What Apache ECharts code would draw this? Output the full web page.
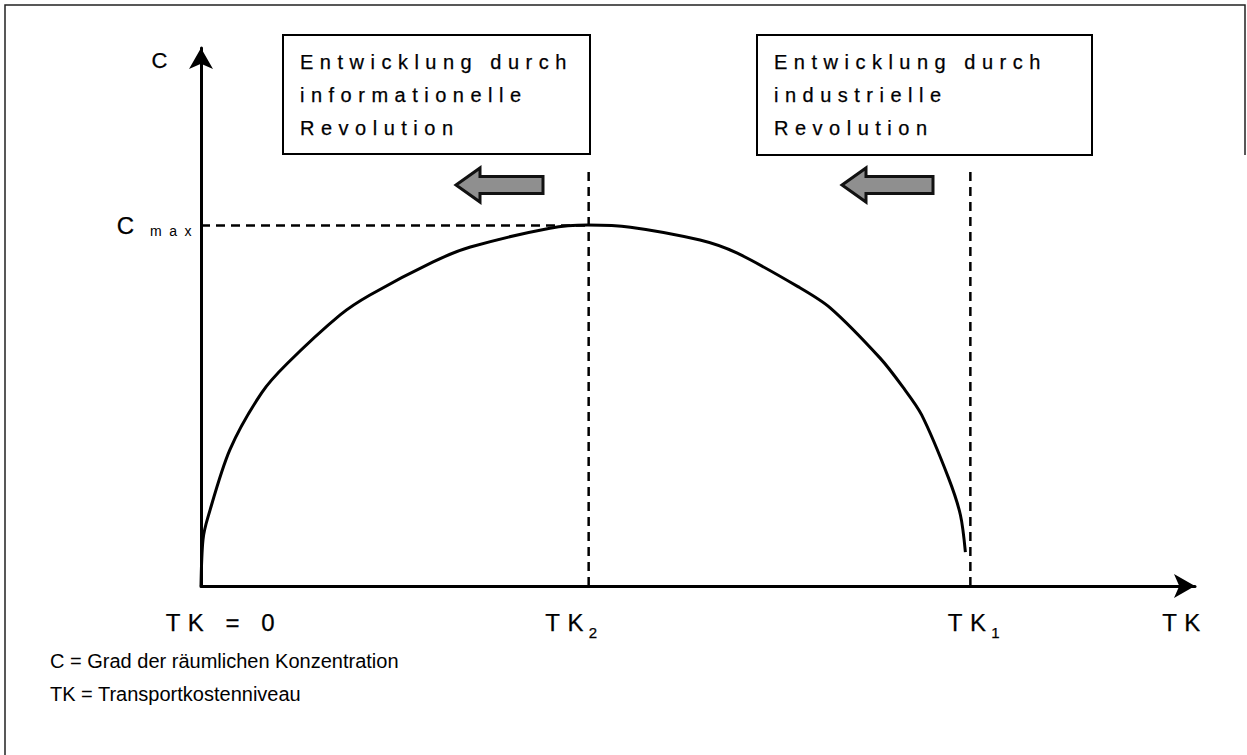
<!DOCTYPE html>
<html>
<head>
<meta charset="utf-8">
<title>Konzentration und Transportkosten</title>
<script src="https://cdn.jsdelivr.net/npm/echarts@6/dist/echarts.min.js"></script>
<style>
    html, body { margin: 0; padding: 0; background: #fff; }
    #chart { width: 1247px; height: 755px; }
    /* gesperrte Schrift wie in der Vorlage */
    #chart svg text { letter-spacing: 7.5px; }
    #chart svg text[fill="#000002"] { letter-spacing: 6.5px; }
    #chart svg text[fill="#010101"] { letter-spacing: 0; }
</style>
</head>
<body>
<div id="chart"></div>
<script>
// Kurve: Transportkostenniveau (TK) -> Grad der Konzentration (C)
const tkValues = [0, 0.2, 0.7, 2.9, 6.1, 8.7, 14.0, 17.0, 23.3, 27.1, 35.1, 38.9, 43.2, 50.2, 53.9, 60.1, 63.3, 68.3, 70.6, 72.5, 75.2, 76.4, 76.9];
const cValues = [0, 8.6, 12.8, 25.3, 35.9, 41.4, 50.4, 54.1, 60.2, 63.0, 66.5, 67.1, 66.7, 64.3, 61.9, 55.6, 51.7, 42.4, 37.0, 31.8, 20.1, 13.2, 6.3];

// Markierungen
const tk2 = 39.0;
const tk1 = 77.4;
const cMax = 67.0;
const dashTop = 77.5;

// Achsenbeschriftungen
const xLabelPos = [2.3, 37.8, 78.3];
const xLabelText = ['TK = 0', '{m|TK}{sub|2}', '{m|TK}{sub|1}'];

// Textkästen und Legende
const boxLines1 = ['Entwicklung durch', 'informationelle', 'Revolution'];
const boxLines2 = ['Entwicklung durch', 'industrielle', 'Revolution'];
const notes = ['C = Grad der räumlichen Konzentration', 'TK = Transportkostenniveau'];

const font = "'Liberation Sans', Arial, sans-serif";

// Blockpfeil nach links
function arrowShape(x0, x1, cy) {
    const head = 24;
    return [
        [x0, cy], [x0 + head, cy - 17], [x0 + head, cy - 8.5], [x1, cy - 8.5],
        [x1, cy + 8.5], [x0 + head, cy + 8.5], [x0 + head, cy + 17]
    ];
}

function textBox(x, y, w, h, lines) {
    return {
        type: 'group',
        children: [{
            type: 'rect',
            shape: { x: x, y: y, width: w, height: h },
            style: { fill: '#fff', stroke: '#000', lineWidth: 2 }
        }, {
            type: 'text',
            x: x + 17,
            y: y + 10,
            style: {
                text: lines.join('\n'),
                font: '20px ' + font,
                fill: '#000002',
                stroke: '#000002',
                lineWidth: 0.25,
                lineHeight: 33,
                verticalAlign: 'top'
            }
        }]
    };
}

const chart = echarts.init(document.getElementById('chart'), null, { renderer: 'svg' });

const dashStyle = { color: '#000', width: 2.5, type: [9, 6] };
const labelText = { color: '#000', fontFamily: font, fontSize: 24, textBorderColor: '#000', textBorderWidth: 0.25 };

const option = {
    backgroundColor: '#fff',
    animation: false,
    grid: { left: 201, right: 52, top: 48, bottom: 169 },
    xAxis: {
        type: 'value',
        min: 0,
        max: 100,
        name: 'TK',
        nameLocation: 'end',
        nameGap: -10,
        nameTextStyle: Object.assign({}, labelText, {
            align: 'center', verticalAlign: 'top', padding: [24, 0, 0, 0]
        }),
        axisLine: {
            show: true,
            symbol: ['none', 'arrow'],
            symbolSize: [18, 21],
            lineStyle: { color: '#000', width: 3 }
        },
        axisTick: { show: false },
        splitLine: { show: false },
        axisLabel: Object.assign({}, labelText, {
            customValues: xLabelPos,
            margin: 24,
            formatter: function (v) {
                return xLabelText[xLabelPos.indexOf(v)];
            },
            rich: {
                m: Object.assign({}, labelText, { padding: [0, 9, 6, 0] }),
                sub: { fontSize: 15, fontFamily: font, color: '#000', verticalAlign: 'bottom', lineHeight: 8 }
            }
        })
    },
    yAxis: {
        type: 'value',
        min: 0,
        max: 100,
        name: 'C',
        nameLocation: 'end',
        nameGap: -12,
        nameTextStyle: Object.assign({}, labelText, {
            fontSize: 22, align: 'right', verticalAlign: 'middle', padding: [0, 26, 0, 0]
        }),
        axisLine: {
            show: true,
            symbol: ['none', 'arrow'],
            symbolSize: [18, 21],
            lineStyle: { color: '#000', width: 3 }
        },
        axisTick: { show: false },
        splitLine: { show: false },
        axisLabel: {
            customValues: [cMax],
            margin: 2,
            formatter: function () {
                return '{c|C}{sub|max}';
            },
            rich: {
                c: Object.assign({}, labelText, { padding: [0, 31, 0, 0] }),
                sub: { fontSize: 14, fontFamily: font, color: '#000', verticalAlign: 'bottom', lineHeight: 14 }
            }
        }
    },
    series: [{
        name: 'TK2',
        type: 'line',
        data: [[tk2, 0], [tk2, dashTop]],
        symbol: 'none',
        lineStyle: dashStyle,
        z: 1
    }, {
        name: 'TK1',
        type: 'line',
        data: [[tk1, 0], [tk1, dashTop]],
        symbol: 'none',
        lineStyle: dashStyle,
        z: 1
    }, {
        name: 'Cmax',
        type: 'line',
        data: [[0, cMax], [tk2, cMax]],
        symbol: 'none',
        lineStyle: dashStyle,
        z: 1
    }, {
        name: 'C',
        type: 'line',
        data: tkValues.map(function (t, i) { return [t, cValues[i]]; }),
        symbol: 'none',
        smooth: 0.3,
        lineStyle: { color: '#000', width: 3 },
        z: 3
    }],
    graphic: [
        // Rahmen (oben, links, rechts oben)
        { type: 'polyline', shape: { points: [[1245, 155], [1245, 5], [5, 5], [5, 755]] },
          style: { stroke: '#222', lineWidth: 1.5, fill: null } },
        textBox(283, 35, 307, 119, boxLines1),
        textBox(757, 35, 335, 120, boxLines2),
        { type: 'polygon', shape: { points: arrowShape(456, 543, 185) },
          style: { fill: '#8f8f8f', stroke: '#111', lineWidth: 3 } },
        { type: 'polygon', shape: { points: arrowShape(842, 933, 185) },
          style: { fill: '#8f8f8f', stroke: '#111', lineWidth: 3 } },
        { type: 'text', x: 50, y: 661,
          style: { text: notes[0], font: '20px ' + font, fill: '#010101', verticalAlign: 'middle' } },
        { type: 'text', x: 50, y: 694,
          style: { text: notes[1], font: '20px ' + font, fill: '#010101', verticalAlign: 'middle' } }
    ]
};
chart.setOption(option);
</script>
</body>
</html>
